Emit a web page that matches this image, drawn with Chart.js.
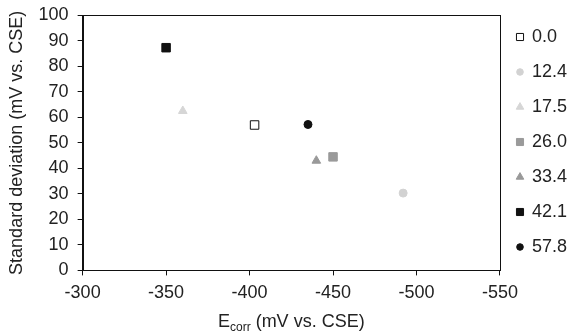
<!DOCTYPE html>
<html>
<head>
<script src="https://cdn.jsdelivr.net/npm/chart.js@4.4.1/dist/chart.umd.min.js"></script>
<style>
  body { margin: 0; background: #fff; }
  #wrap { width: 572px; height: 334px; }
</style>
</head>
<body>
<div id="wrap"><canvas id="chart"></canvas></div>
<script>
// Ecorr vs standard deviation, one series per label
var labels = ['0.0', '12.4', '17.5', '26.0', '33.4', '42.1', '57.8'];
var ecorr = [-403, -492, -360, -450, -440, -350, -435];
var stdDev = [57, 30.3, 62.5, 44.5, 43, 87.3, 57.2];
var xTicks = [-300, -350, -400, -450, -500, -550];
var yTicks = [0, 10, 20, 30, 40, 50, 60, 70, 80, 90, 100];

var styles = [
    { shape: 'rect', fill: '#ffffff', line: '#111111', r: 6, lr: 5 },
    { shape: 'circle', fill: '#d2d2d2', line: '#d2d2d2', r: 4, lr: 3.3 },
    { shape: 'triangle', fill: '#d6d6d6', line: '#d6d6d6', r: 5, lr: 4.4 },
    { shape: 'rect', fill: '#9a9a9a', line: '#9a9a9a', r: 6, lr: 5 },
    { shape: 'triangle', fill: '#999999', line: '#999999', r: 5, lr: 4.4 },
    { shape: 'rect', fill: '#111111', line: '#111111', r: 6, lr: 5 },
    { shape: 'circle', fill: '#111111', line: '#111111', r: 4, lr: 3.3 }
];

var font = "'Liberation Sans', Arial, sans-serif";

var datasets = labels.map(function (lab, i) {
    var s = styles[i];
    return {
        label: lab,
        data: [{ x: ecorr[i], y: stdDev[i] }],
        pointStyle: s.shape,
        pointRadius: s.r,
        pointHoverRadius: s.r,
        pointBackgroundColor: s.fill,
        pointBorderColor: s.line,
        pointBorderWidth: 1,
        backgroundColor: s.fill,
        borderColor: s.line,
        showLine: false
    };
});

// smaller legend markers
function legendIcon(s) {
    var c = document.createElement('canvas');
    c.width = 12; c.height = 12;
    var g = c.getContext('2d');
    g.fillStyle = s.fill;
    g.strokeStyle = s.line;
    g.lineWidth = 1;
    Chart.helpers.drawPoint(g, { pointStyle: s.shape, radius: s.lr, borderWidth: 1 }, 6, 6);
    return c;
}
var icons = styles.map(legendIcon);

// plot frame, x title with subscript
var extras = {
    id: 'extras',
    afterDraw: function (chart) {
        var ctx = chart.ctx, a = chart.chartArea;
        ctx.save();
        ctx.strokeStyle = '#111';
        ctx.lineWidth = 1;
        ctx.strokeRect(Math.round(a.left) + 0.5, Math.round(a.top) + 0.5,
            Math.round(a.right - a.left), Math.round(a.bottom - a.top));

        ctx.fillStyle = '#222';
        ctx.textBaseline = 'alphabetic';
        var big = '18px ' + font, small = '12px ' + font;
        var p1 = 'E', p2 = 'corr', p3 = ' (mV vs. CSE)';
        ctx.font = big; var w1 = ctx.measureText(p1).width, w3 = ctx.measureText(p3).width;
        ctx.font = small; var w2 = ctx.measureText(p2).width;
        var x = (a.left + a.right) / 2 - (w1 + w2 + w3) / 2;
        var y = 327;
        ctx.font = big; ctx.fillText(p1, x, y);
        ctx.font = small; ctx.fillText(p2, x + w1, y + 4);
        ctx.font = big; ctx.fillText(p3, x + w1 + w2, y);
        ctx.restore();
    }
};

new Chart(document.getElementById('chart'), {
    type: 'scatter',
    data: { datasets: datasets },
    options: {
        responsive: true,
        maintainAspectRatio: false,
        animation: false,
        layout: { padding: { top: 11, right: -5, bottom: 23, left: 0 } },
        plugins: {
            tooltip: { enabled: false },
            legend: {
                position: 'right',
                align: 'start',
                labels: {
                    usePointStyle: true,
                    boxWidth: 6,
                    boxHeight: 6,
                    padding: 17,
                    color: '#222',
                    font: { family: font, size: 18 },
                    generateLabels: function (chart) {
                        var items = Chart.defaults.plugins.legend.labels.generateLabels(chart);
                        items.forEach(function (it, i) { it.pointStyle = icons[i]; });
                        return items;
                    }
                }
            }
        },
        scales: {
            x: {
                type: 'linear',
                reverse: true,
                min: -550,
                max: -300,
                afterBuildTicks: function (s) { s.ticks = xTicks.map(function (v) { return { value: v }; }); },
                grid: { display: true, drawOnChartArea: false, drawTicks: true, tickLength: 5, color: '#111' },
                border: { display: true, color: '#111', width: 1 },
                ticks: { color: '#222', padding: 7, autoSkip: false, font: { family: font, size: 18 }, maxRotation: 0 }
            },
            y: {
                min: 0,
                max: 100,
                afterBuildTicks: function (s) { s.ticks = yTicks.map(function (v) { return { value: v }; }); },
                grid: { display: true, drawOnChartArea: false, drawTicks: true, tickLength: 5, color: '#111' },
                border: { display: true, color: '#111', width: 1 },
                ticks: { color: '#222', padding: 9, autoSkip: false, font: { family: font, size: 18, lineHeight: 0.7 } },
                title: {
                    display: true,
                    text: 'Standard deviation (mV vs. CSE)',
                    color: '#222',
                    padding: { top: 6, bottom: 2 },
                    font: { family: font, size: 18 }
                }
            }
        }
    },
    plugins: [extras]
});
</script>
</body>
</html>
